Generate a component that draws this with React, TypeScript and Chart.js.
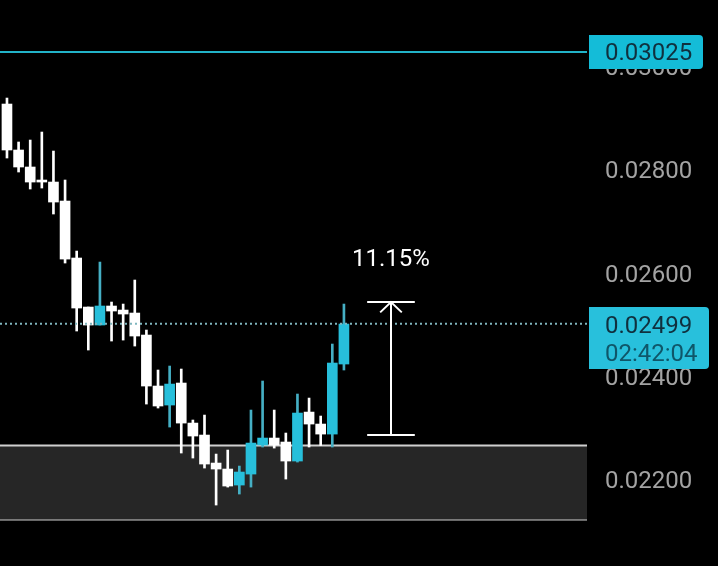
import React, { useEffect, useRef } from 'react';
import { Chart, registerables } from 'chart.js';

Chart.register(...registerables);

// candles, oldest first
const opens = [0.029243, 0.028353, 0.028024, 0.027772, 0.027733, 0.027365, 0.026262, 0.025313, 0.024965, 0.025333, 0.025255, 0.025197, 0.024771, 0.023784, 0.023416, 0.023842, 0.023067, 0.022835, 0.022293, 0.022177, 0.021867, 0.02208, 0.022642, 0.022777, 0.0227, 0.022332, 0.02328, 0.023048, 0.022854, 0.02421];
const closes = [0.028353, 0.028024, 0.027733, 0.027733, 0.027346, 0.026242, 0.025294, 0.024965, 0.025333, 0.025236, 0.025178, 0.024752, 0.023784, 0.023397, 0.023822, 0.023067, 0.022816, 0.022274, 0.022177, 0.021848, 0.022119, 0.02268, 0.022777, 0.022642, 0.022332, 0.023261, 0.023048, 0.022854, 0.024229, 0.024984];
const highs = [0.029359, 0.028508, 0.028546, 0.028701, 0.028333, 0.027772, 0.026397, 0.025313, 0.026184, 0.02541, 0.025371, 0.025836, 0.024868, 0.024094, 0.024171, 0.024113, 0.023126, 0.023222, 0.022467, 0.022545, 0.022235, 0.023319, 0.023881, 0.023319, 0.022874, 0.023629, 0.023551, 0.023203, 0.024597, 0.025371];
const lows = [0.028198, 0.027927, 0.027598, 0.027617, 0.027114, 0.026165, 0.024849, 0.024481, 0.024965, 0.024655, 0.024674, 0.024558, 0.023435, 0.023358, 0.02299, 0.022487, 0.02239, 0.022196, 0.02148, 0.021828, 0.021693, 0.021828, 0.022603, 0.022583, 0.021983, 0.022312, 0.022603, 0.022632, 0.022603, 0.024094];

const yTicks = [0.022, 0.024, 0.026, 0.028, 0.03];
const targetPrice = 0.03025;
const lastPrice = 0.02499;
const countdown = '02:42:04';
const bandTop = 0.022632;
const bandBottom = 0.021199;
const measureTop = 0.02541;
const measureBottom = 0.022835;
const measureLabel = '11.15%';
const measureIndex = 33.05;

const xMin = -0.6;
const xMax = 49.92;
const yMin = 0.0203;
const yMax = 0.031257;

const UP = '#27bfdb';
const UP_WICK = '#45afc4';
const WHITE = '#ffffff';
const FONT = 'Roboto';

const idx = opens.map((_, i) => i);
const hline = (v: number) => [{ x: xMin, y: v }, { x: xMax, y: v }];

const labelsPlugin = {
  id: 'priceLabels',
  beforeDraw(chart: any) {
    // tick labels sit a little under their price level in the reference
    chart.scales.y.getLabelItems().forEach((item: any) => {
      if (!item.shifted) {
        item.options.translation[1] += 4;
        item.shifted = true;
      }
    });
  },
  afterDraw(chart: any) {
    const { ctx, scales } = chart;
    const y = scales.y;
    ctx.save();
    ctx.textBaseline = 'middle';
    ctx.font = `24px ${FONT}`;

    // target price tag
    ctx.fillStyle = '#14bcd8';
    ctx.beginPath();
    ctx.roundRect(589, 35, 114, 34, [0, 4, 4, 0]);
    ctx.fill();
    ctx.fillStyle = '#10303e';
    ctx.textAlign = 'left';
    ctx.fillText(targetPrice.toFixed(5), 605, y.getPixelForValue(targetPrice) + 2);

    // last price tag with countdown
    ctx.fillStyle = '#28c0dc';
    ctx.beginPath();
    ctx.roundRect(589, 307, 120, 62, [0, 4, 4, 0]);
    ctx.fill();
    ctx.fillStyle = '#10303e';
    ctx.fillText(lastPrice.toFixed(5), 605, 327);
    ctx.fillStyle = '#0f5669';
    ctx.fillText(countdown, 605, 355);

    // measure tool percent
    ctx.fillStyle = WHITE;
    ctx.textAlign = 'center';
    ctx.fillText(measureLabel, scales.x.getPixelForValue(measureIndex), 260);
    ctx.restore();
  },
};

const App: React.FC = () => {
  const canvasRef = useRef<HTMLCanvasElement | null>(null);

  useEffect(() => {
    if (!canvasRef.current) return;
    const lineBase = { type: 'line', pointRadius: 0, borderCapStyle: 'butt' };
    const chart = new Chart(canvasRef.current, {
      type: 'bar',
      data: {
        datasets: [
          { ...lineBase, data: hline(bandTop), borderColor: '#cfcfcf', borderWidth: 2, backgroundColor: '#262626', fill: '+1', order: 20 },
          { ...lineBase, data: hline(bandBottom), borderColor: '#cfcfcf', borderWidth: 2, order: 20 },
          {
            data: idx.map((i) => ({ x: i, y: [lows[i], highs[i]] })),
            backgroundColor: idx.map((i) => (closes[i] > opens[i] ? UP_WICK : WHITE)),
            barThickness: 2,
            grouped: false,
            order: 10,
          },
          {
            data: idx.map((i) => ({ x: i, y: [opens[i], closes[i]] })),
            backgroundColor: idx.map((i) => (closes[i] > opens[i] ? UP : WHITE)),
            barThickness: 10,
            grouped: false,
            order: 9,
          },
          { ...lineBase, data: hline(targetPrice), borderColor: '#22b3c8', borderWidth: 2, order: 5 },
          { ...lineBase, data: hline(lastPrice), borderColor: '#7fb5bd', borderWidth: 2, borderDash: [2, 3], order: 5 },
          // measure tool: stem, caps, arrow head
          { ...lineBase, data: [{ x: measureIndex, y: measureBottom }, { x: measureIndex, y: measureTop }], borderColor: WHITE, borderWidth: 2, order: 4 },
          { ...lineBase, data: [{ x: measureIndex - 2.05, y: measureTop }, { x: measureIndex + 2.05, y: measureTop }], borderColor: WHITE, borderWidth: 2, order: 4 },
          { ...lineBase, data: [{ x: measureIndex - 2.05, y: measureBottom }, { x: measureIndex + 2.05, y: measureBottom }], borderColor: WHITE, borderWidth: 2, order: 4 },
          { ...lineBase, data: [{ x: measureIndex - 0.93, y: measureTop - 0.0002 }, { x: measureIndex, y: measureTop }, { x: measureIndex + 0.93, y: measureTop - 0.0002 }], borderColor: WHITE, borderWidth: 2, order: 4 },
        ] as any,
      },
      options: {
        responsive: false,
        animation: false,
        layout: { padding: 0, autoPadding: false },
        plugins: { legend: { display: false }, tooltip: { enabled: false } },
        scales: {
          x: { type: 'linear', min: xMin, max: xMax, offset: false, display: false },
          y: {
            position: 'right',
            min: yMin,
            max: yMax,
            afterFit: (s: any) => { s.width = 131; s.paddingTop = 0; s.paddingBottom = 0; },
            afterBuildTicks: (s: any) => { s.ticks = yTicks.map((value) => ({ value })); },
            grid: { display: false, drawTicks: false },
            border: { display: false },
            ticks: {
              padding: 18,
              color: '#a3a3a3',
              font: { family: FONT, size: 24 },
              callback: (v: any) => Number(v).toFixed(5),
            },
          },
        },
      },
      plugins: [labelsPlugin],
    } as any);
    return () => chart.destroy();
  }, []);

  return (
    <>
      <style>{'html,body{margin:0;background:#000}'}</style>
      <canvas ref={canvasRef} width={718} height={566} style={{ display: 'block' }} />
    </>
  );
};

export default App;
